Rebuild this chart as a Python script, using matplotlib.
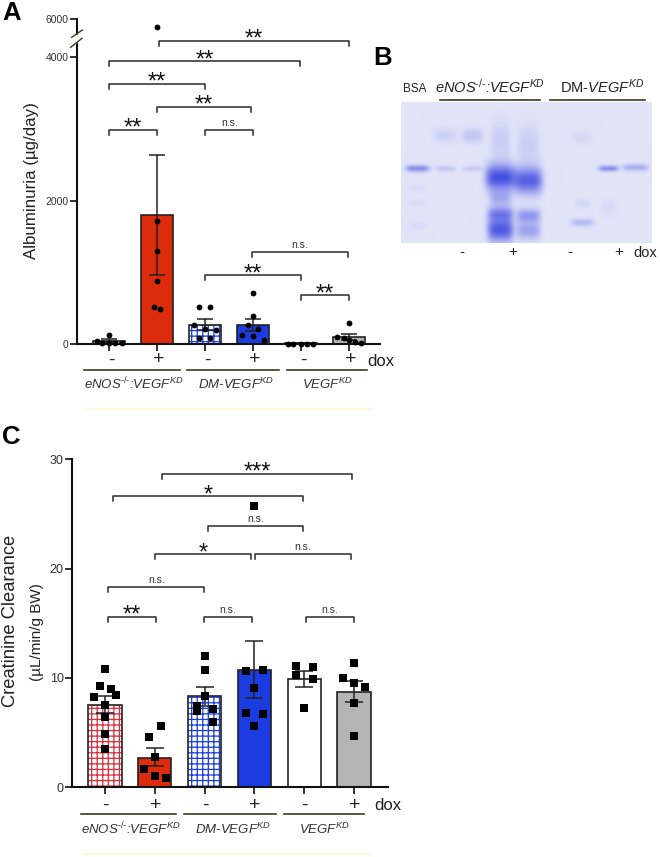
import numpy as np
from matplotlib import pyplot as plt

plt.rcParams['font.family'] = ['Liberation Sans', 'DejaVu Sans']
plt.rcParams['mathtext.fontset'] = 'custom'
plt.rcParams['mathtext.rm'] = 'Liberation Sans'
plt.rcParams['mathtext.it'] = 'Liberation Sans:italic'
plt.rcParams['hatch.linewidth'] = 0.9

W, H = 660, 857
DARK = '#222222'
OLIVE = '#3d3a1e'

# panel A
alb_mean = [45, 1800, 265, 260, 10, 98]
alb_low = [25, 957, 190, 180, 5, 60]
alb_high = [65, 2634, 344, 352, 15, 143]
alb_x = [[-0.26, 0, -0.15, 0, 0.125, 0.28],
         [0, 0, 0, 0, -0.07, 0.06],
         [-0.12, 0.11, -0.23, 0, 0.22, -0.12, 0.11],
         [0, 0, -0.11, 0.11, -0.22, 0, 0.22],
         [-0.28, -0.16, -0.01, 0.13, 0.26],
         [0, -0.26, -0.1, 0, 0.12, 0.26]]
alb_y = [[38, 130, 18, 18, 18, 14],
         [5605, 1718, 1296, 873, 520, 492],
         [520, 520, 269, 209, 195, 84, 84],
         [715, 390, 260, 205, 120, 115, 50],
         [6, 6, 5, 6, 6],
         [297, 98, 84, 56, 32, 18]]
alb_brackets = [(1.035, 5.0, 4858, '**'), (0.01, 3.98, 3944, '**'),
                (0.01, 2.0, 3624, '**'), (1.0, 2.95, 3307, '**'),
                (0.0, 1.0, 2983, '**'), (2.01, 3.0, 2983, 'n.s.'),
                (2.97, 4.98, 1282, 'n.s.'), (2.0, 4.0, 957, '**'),
                (4.0, 4.99, 678, '**')]

# panel C
cre_mean = [7.5, 2.7, 8.3, 10.7, 9.85, 8.7]
cre_low = [6.8, 1.9, 7.45, 8.15, 9.17, 7.8]
cre_high = [8.3, 3.54, 9.2, 13.35, 10.6, 9.7]
cre_x = [[0, -0.11, 0.12, -0.22, 0.22, 0, 0, 0, 0],
         [0.12, -0.11, 0, -0.21, 0, 0.23],
         [0, 0, 0, -0.16, -0.16, 0.17, 0.17],
         [-0.17, 0.17, 0, -0.17, 0.17, 0, 0],
         [-0.16, 0.17, -0.16, 0.17, 0],
         [0, -0.22, 0, 0.23, 0, 0]]
cre_y = [[10.83, 9.26, 8.98, 8.2, 8.43, 7.48, 6.37, 4.83, 3.45],
         [5.54, 4.55, 2.74, 1.69, 1.05, 0.8],
         [12.03, 10.74, 8.34, 7.38, 6.92, 7.14, 5.94],
         [10.58, 10.71, 9.02, 6.77, 6.71, 5.57, 25.7],
         [11.05, 10.98, 10.25, 9.88, 7.23],
         [11.38, 9.94, 9.54, 9.17, 7.72, 4.71]]
cre_brackets = [(1.14, 4.96, 28.7, '***'), (0.155, 3.98, 26.6, '*'),
                (2.06, 3.98, 23.9, 'n.s.'), (1.0, 2.93, 21.3, '*'),
                (3.01, 4.94, 21.3, 'n.s.'), (0.07, 1.99, 18.3, 'n.s.'),
                (0.07, 1.02, 15.6, '**'), (1.98, 2.95, 15.55, 'n.s.'),
                (4.03, 4.99, 15.55, 'n.s.')]

bar_fill = ['white', '#dd2c0c', 'white', '#1a3ce0', 'white', '#b4b4b4']
bar_hatch = ['#dd2c3c', None, '#1a3ce0', None, None, None]
dox_signs = ['-', '+', '-', '+', '-', '+']
group_names = ['eNOS$^{\u2010/\u2010}$:VEGF$^{KD}$', 'DM-VEGF$^{KD}$', 'VEGF$^{KD}$']

# panel B, gel bands: lane x, band y, half width, half height, strength (image pixels)
band_x = [417, 417, 417, 417, 445, 445, 472, 472, 500, 500, 500, 500, 500,
          528, 528, 528, 528, 582, 582, 582, 608, 608, 635]
band_y = [168, 188, 203, 225, 168, 135, 168, 135, 140, 177, 198, 213, 229,
          145, 180, 215, 230, 222, 203, 137, 168, 207, 167]
band_w = [12, 9, 9, 9, 10, 12, 10, 11, 10, 15, 11, 13, 13,
          11, 14, 12, 12, 12, 8, 10, 10, 8, 13]
band_h = [3.5, 4, 4, 4, 3, 7, 3, 7, 20, 13, 8, 7, 12,
          20, 13, 7, 9, 4, 5, 6, 3, 8, 3.5]
band_s = [0.55, 0.05, 0.06, 0.06, 0.2, 0.13, 0.17, 0.2, 0.15, 0.95, 0.32, 0.55, 0.9,
          0.15, 0.85, 0.48, 0.42, 0.26, 0.08, 0.08, 0.55, 0.07, 0.35]


def px_axes(fig, left, top, right, bottom):
    return fig.add_axes([left / W, 1 - bottom / H, (right - left) / W, (bottom - top) / H])


def to_break(v):
    v = np.asarray(v, dtype=float)
    return np.where(v <= 4000, v, 4000 + (v - 4000) * 0.265)


def from_break(v):
    v = np.asarray(v, dtype=float)
    return np.where(v <= 4000, v, 4000 + (v - 4000) / 0.265)


def draw_bars(ax, mean, low, high, xs, ys, marker, msize, capsize):
    pos = np.arange(6)
    ax.bar(pos, mean, width=0.67, color=bar_fill, linewidth=0, zorder=2)
    for i, col in enumerate(bar_hatch):
        if col:
            ax.bar(pos[i], mean[i], width=0.67, facecolor='none', edgecolor=col,
                   hatch='+++', linewidth=0, zorder=2.1)
    ax.bar(pos, mean, width=0.67, facecolor='none', edgecolor=DARK, linewidth=1.2, zorder=2.2)
    err = [np.array(mean) - np.array(low), np.array(high) - np.array(mean)]
    ax.errorbar(pos, mean, yerr=err, fmt='none', ecolor=DARK, elinewidth=1.1,
                capsize=capsize, capthick=1.1, zorder=3)
    for i in range(6):
        ax.plot(pos[i] + np.array(xs[i]), ys[i], marker, color='black', ms=msize,
                mew=0, clip_on=False, zorder=4)
    ax.set_xticks(pos)
    ax.set_xticklabels([])
    ax.tick_params(axis='x', length=5, width=1.3, color=DARK)
    ax.tick_params(axis='y', length=5, width=1.3, color=DARK, pad=1, labelcolor='#333333')
    for s in ['top', 'right']:
        ax.spines[s].set_visible(False)
    for s in ['left', 'bottom']:
        ax.spines[s].set_linewidth(1.5)
        ax.spines[s].set_color('#111111')
    ax.patch.set_alpha(0)


def draw_brackets(ax, fig, brackets):
    for x0, x1, y, label in brackets:
        disp = ax.transData.transform([(x0, y), (x1, y)])
        top = H - disp[0][1]
        xa, xb = disp[0][0], disp[1][0]
        fig.add_artist(plt.Line2D([xa / W, xa / W, xb / W, xb / W],
                                  [1 - (top + 5) / H, 1 - top / H, 1 - top / H, 1 - (top + 5) / H],
                                  color='#2a2a2a', lw=1.1))
        mid = (xa + xb) / 2
        if label == 'n.s.':
            fig.text(mid / W, 1 - (top - 2) / H, label, fontsize=7.5, ha='center', va='bottom',
                     color='#333333')
        else:
            fig.text(mid / W, 1 - (top + 5) / H, label, fontsize=17, ha='center', va='baseline',
                     color='#111111')


def ftext(fig, x, y, s, **kw):
    kw.setdefault('ha', 'center')
    kw.setdefault('va', 'center')
    return fig.text(x / W, 1 - y / H, s, **kw)


def fline(fig, x0, x1, y, color=OLIVE, lw=1.2):
    fig.add_artist(plt.Line2D([x0 / W, x1 / W], [1 - y / H, 1 - y / H], color=color, lw=lw))


fig = plt.figure(figsize=(W / 100, H / 100), dpi=100)

# A
x0_a, step_a = 109, 48
ax_a = px_axes(fig, 77, 19, 380, 344)
ax_a.set_yscale('function', functions=(to_break, from_break))
ax_a.set_ylim(0, 6000)
ax_a.set_xlim((77 - x0_a) / step_a, (380 - x0_a) / step_a)
draw_bars(ax_a, alb_mean, alb_low, alb_high, alb_x, alb_y, 'o', 4.2, 6)
ax_a.set_yticks([0, 2000, 4000, 6000])
ax_a.set_yticklabels(['0', '2000', '4000', '6000'], fontsize=7.5)
ax_a.minorticks_off()
draw_brackets(ax_a, fig, alb_brackets)
fig.add_artist(plt.Line2D([77 / W, 77 / W], [1 - 35.5 / H, 1 - 41 / H], color='white', lw=2.5))
fig.add_artist(plt.Line2D([71.7 / W, 82.3 / W], [1 - 37.3 / H, 1 - 30 / H], color=OLIVE, lw=1))
fig.add_artist(plt.Line2D([70.7 / W, 82 / W], [1 - 47.3 / H, 1 - 38.3 / H], color=OLIVE, lw=1))
ftext(fig, 32, 181, 'Albuminuria (µg/day)', rotation=90, fontsize=12.2, color='#222222')
for i, s in enumerate(dox_signs):
    ftext(fig, x0_a + 2 + step_a * i, 360, s, fontsize=14, color='#222222')
ftext(fig, 381, 362, 'dox', fontsize=12, color='#222222')
for a, b in [(84, 180), (187, 279), (287, 367)]:
    fline(fig, a, b, 370)
for x, s in zip([134, 236, 327], group_names):
    ftext(fig, x, 384, s, fontsize=9.5, color='#333333', style='italic')
fline(fig, 87, 372, 409, color='#fbfbd8', lw=1.5)

# B
gy, gx = np.mgrid[102:243, 401:652]
alpha = np.zeros(gx.shape, dtype=float)
for bx, by, bw, bh, bs in zip(band_x, band_y, band_w, band_h, band_s):
    alpha += bs * np.exp(-((gx - bx) / bw) ** 4) * np.exp(-((gy - by) / bh) ** 2)
alpha = np.clip(alpha, 0, 1)[..., None]
gel_bg = np.array([226, 229, 248]) / 255
gel_fg = np.array([62, 72, 226]) / 255
ax_b = px_axes(fig, 401, 102, 652, 243)
ax_b.imshow(gel_bg * (1 - alpha) + gel_fg * alpha, aspect='auto', interpolation='bilinear')
ax_b.axis('off')
ftext(fig, 415, 89, 'BSA', fontsize=8.5, color='#222222')
ftext(fig, 490, 87, group_names[0], fontsize=10.5, color='#222222', style='italic')
ftext(fig, 602, 87, r'DM-$\mathit{VEGF}^{KD}$', fontsize=10.5, color='#222222')
fline(fig, 440, 540, 100)
fline(fig, 550, 645, 100)
for x, s in zip([462, 513, 570, 619], ['-', '+', '-', '+']):
    ftext(fig, x, 252, s, fontsize=11, color='#222222')
ftext(fig, 645, 253, 'dox', fontsize=10.5, color='#222222')

# C
x0_c, step_c = 105, 49.8
ax_c = px_axes(fig, 72, 459.3, 388, 787)
ax_c.set_ylim(0, 30)
ax_c.set_xlim((72 - x0_c) / step_c, (388 - x0_c) / step_c)
draw_bars(ax_c, cre_mean, cre_low, cre_high, cre_x, cre_y, 's', 5.8, 6.5)
ax_c.set_yticks([0, 10, 20, 30])
ax_c.tick_params(axis='y', labelsize=9)
draw_brackets(ax_c, fig, cre_brackets)
ftext(fig, 11, 621, 'Creatinine Clearance', rotation=90, fontsize=13.2, color='#222222')
ftext(fig, 37, 632, '(µL/min/g BW)', rotation=90, fontsize=11, color='#222222')
for i, s in enumerate(dox_signs):
    ftext(fig, x0_c + 0.5 + step_c * i, 805, s, fontsize=14, color='#222222')
ftext(fig, 388, 806, 'dox', fontsize=12, color='#222222')
for a, b in [(81, 176), (184, 276), (284, 364)]:
    fline(fig, a, b, 814)
for x, s in zip([131, 233, 324], group_names):
    ftext(fig, x, 829, s, fontsize=9.5, color='#333333', style='italic')
fline(fig, 84, 370, 854, color='#fbfbd8', lw=1.5)

# panel letters
ftext(fig, 2, 13, 'A', fontsize=18.5, fontweight='bold', ha='left', color='black')
ftext(fig, 373, 58, 'B', fontsize=18.5, fontweight='bold', ha='left', color='black')
ftext(fig, 2, 437, 'C', fontsize=18.5, fontweight='bold', ha='left', color='black')

fig.savefig('out.png', dpi=100)
